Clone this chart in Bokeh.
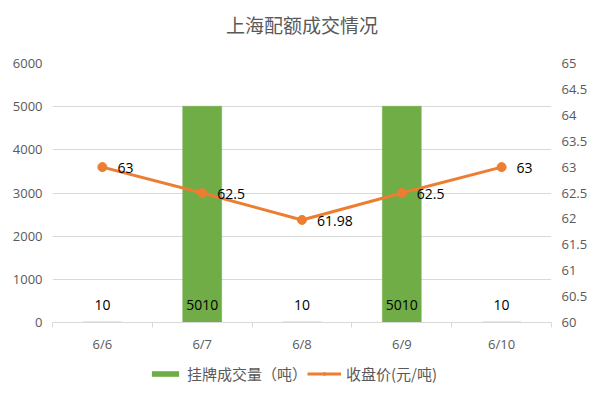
from bokeh.plotting import figure
from bokeh.layouts import column
from bokeh.models import (Range1d, LinearAxis, FixedTicker, ColumnDataSource, Label,
                          Legend, LegendItem, CustomJSTickFormatter, NumeralTickFormatter)
from bokeh.embed import file_html
from bokeh.resources import INLINE
from bokeh.core.properties import value

chart_title = "上海配额成交情况"
dates = ["6/6", "6/7", "6/8", "6/9", "6/10"]
volume = [10, 5010, 10, 5010, 10]
price = [63, 62.5, 61.98, 62.5, 63]
volume_ticks = [0, 1000, 2000, 3000, 4000, 5000, 6000]
price_ticks = [60, 60.5, 61, 61.5, 62, 62.5, 63, 63.5, 64, 64.5, 65]
volume_name = "挂牌成交量（吨）"
price_name = "收盘价(元/吨)"

GREEN = "#70AD47"
ORANGE = "#ED7D31"
GRID = "#D9D9D9"
TXT = "#595959"
FONT = "Open Sans"
CJK = "Noto Sans CJK SC"

xs = [i + 0.5 for i in range(len(dates))]
src = ColumnDataSource(dict(
    x=xs, volume=volume, price=price,
    vlabel=[str(v) for v in volume],
    plabel=[f"{v:g}" for v in price],
))


def strip(height, x_range, y_range):
    f = figure(width=600, height=height, output_backend="svg", toolbar_location=None,
               x_range=x_range, y_range=y_range,
               min_border=0, min_border_left=0, min_border_right=0,
               min_border_top=0, min_border_bottom=0)
    f.axis.visible = False
    f.grid.visible = False
    f.outline_line_color = None
    f.border_fill_color = "white"
    f.background_fill_color = "white"
    return f


# title strip
TITLE_H = 44
ts = strip(TITLE_H, Range1d(0, 1), Range1d(0, TITLE_H))
ts.add_layout(Label(x=0.5, y=TITLE_H - 24, text=chart_title, text_align="center",
                    text_baseline="middle", text_font=CJK, text_font_size="19px",
                    text_color=TXT))

# main chart
p = figure(width=600, height=358 - TITLE_H, output_backend="svg", toolbar_location=None,
           x_range=Range1d(0, len(dates)), y_range=Range1d(volume_ticks[0], volume_ticks[-1]),
           min_border_left=52, min_border_right=49, min_border_top=63 - TITLE_H,
           min_border_bottom=36)
p.extra_y_ranges = {"price": Range1d(price_ticks[0], price_ticks[-1])}
p.outline_line_color = None
p.background_fill_color = "white"
p.border_fill_color = "white"

xaxis = p.xaxis[0]
xaxis.ticker = FixedTicker(ticks=xs, minor_ticks=list(range(len(dates) + 1)))
xaxis.formatter = CustomJSTickFormatter(args=dict(labels=dates),
                                        code="return labels[Math.floor(tick)];")
xaxis.axis_line_color = GRID
xaxis.major_tick_line_color = None
xaxis.major_tick_out = 0
xaxis.major_tick_in = 0
xaxis.minor_tick_line_color = GRID
xaxis.minor_tick_out = 5
xaxis.minor_tick_in = 0
xaxis.major_label_standoff = 7
xaxis.major_label_text_font = FONT
xaxis.major_label_text_font_size = "13px"
xaxis.major_label_text_color = TXT

laxis = p.yaxis[0]
laxis.ticker = FixedTicker(ticks=volume_ticks)
laxis.axis_line_color = None
laxis.major_tick_line_color = None
laxis.minor_tick_line_color = None
laxis.major_tick_out = 0
laxis.major_label_standoff = 10
laxis.major_label_text_font = FONT
laxis.major_label_text_font_size = "13px"
laxis.major_label_text_color = TXT

raxis = LinearAxis(y_range_name="price", ticker=FixedTicker(ticks=price_ticks),
                   formatter=NumeralTickFormatter(format="0.[0]"))
raxis.axis_line_color = None
raxis.major_tick_line_color = None
raxis.minor_tick_line_color = None
raxis.major_tick_out = 0
raxis.major_label_standoff = 10
raxis.major_label_text_font = FONT
raxis.major_label_text_font_size = "13px"
raxis.major_label_text_color = TXT
p.add_layout(raxis, "right")

p.xgrid.visible = False
p.ygrid.grid_line_color = GRID
p.ygrid.grid_line_width = 1

p.vbar(x="x", top="volume", bottom=0, width=0.39, source=src,
       fill_color=GREEN, line_color=GREEN, line_width=0.5)
p.line(x="x", y="price", source=src, y_range_name="price",
       line_color=ORANGE, line_width=3)
p.scatter(x="x", y="price", source=src, y_range_name="price",
          size=9, fill_color=ORANGE, line_color=ORANGE)

p.text(x="x", y=0, text="vlabel", source=src, y_offset=-18,
       text_align="center", text_baseline="middle",
       text_font=value(FONT), text_font_size="14px", text_color="#000000")
p.text(x="x", y="price", text="plabel", source=src, y_range_name="price",
       x_offset=15, y_offset=1, text_align="left", text_baseline="middle",
       text_font=value(FONT), text_font_size="14px", text_color="#000000")

# legend strip: same data, viewed beyond the last category so only the legend shows
lg = strip(30, Range1d(len(dates) + 1, len(dates) + 2), Range1d(0, volume_ticks[-1]))
lbar = lg.vbar(x="x", top="volume", bottom="volume", width=0.39, source=src,
               fill_color=GREEN, line_color=None)
lline = lg.line(x="x", y="price", source=src, line_color=ORANGE, line_width=3)
lpts = lg.scatter(x="x", y="price", source=src, size=9, fill_color=ORANGE, line_color=ORANGE)

legend = Legend(items=[LegendItem(label=volume_name, renderers=[lbar]),
                       LegendItem(label=price_name, renderers=[lline, lpts])],
                orientation="horizontal", location=(96, 4),
                border_line_color=None, background_fill_alpha=0,
                margin=0, padding=2, spacing=0, label_standoff=5,
                glyph_width=34, glyph_height=7,
                label_text_font=CJK, label_text_font_size="15px", label_text_color=TXT)
lg.add_layout(legend, "center")

layout = column(ts, p, lg, spacing=0)
open("out.html", "w").write(file_html(layout, INLINE))
